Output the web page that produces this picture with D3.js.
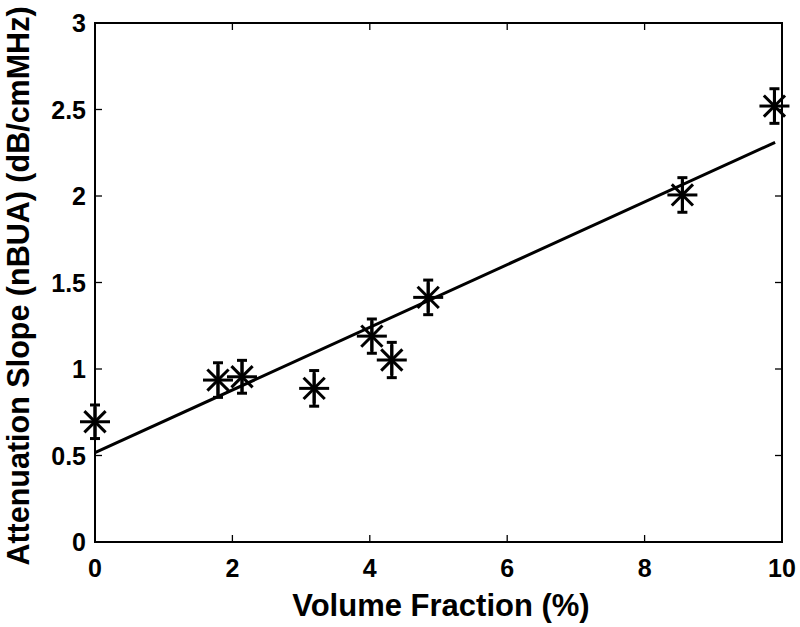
<!DOCTYPE html>
<html><head><meta charset="utf-8">
<script src="https://cdn.jsdelivr.net/npm/d3@7"></script>
<style>body{margin:0;background:#fff}svg{display:block}</style>
</head><body>
<svg id="c" width="800" height="627"></svg>
<script>
const volumeFraction = [0, 1.79, 2.14, 3.19, 4.03, 4.32, 4.85, 8.55, 9.89];
const attenuation = [0.695, 0.936, 0.955, 0.888, 1.19, 1.052, 1.414, 2.006, 2.52];
const errorHalf = [0.097, 0.1, 0.095, 0.103, 0.099, 0.102, 0.1, 0.1, 0.1];
const fitX = [0, 9.9];
const fitY = [0.516, 2.31];
const xTicks = [0, 2, 4, 6, 8, 10];
const yTicks = [0, 0.5, 1, 1.5, 2, 2.5, 3];
const xTitle = "Volume Fraction (%)";
const yTitle = "Attenuation Slope (nBUA) (dB/cmMHz)";

const svg = d3.select("#c");
const L = 95, R = 782, T = 23, B = 542;
const x = d3.scaleLinear().domain([0, 10]).range([L, R]);
const y = d3.scaleLinear().domain([0, 3]).range([B, T]);
const font = "'Liberation Sans', Arial, sans-serif";
const tl = 7;

// ticks
const g = svg.append("g");
g.selectAll(".xb").data(xTicks).enter().append("line")
  .attr("x1", d => x(d)).attr("x2", d => x(d)).attr("y1", B).attr("y2", B - tl)
  .attr("stroke", "#000").attr("stroke-width", 1.3);
g.selectAll(".xt").data(xTicks).enter().append("line")
  .attr("x1", d => x(d)).attr("x2", d => x(d)).attr("y1", T).attr("y2", T + tl)
  .attr("stroke", "#000").attr("stroke-width", 1.3);
g.selectAll(".yl").data(yTicks).enter().append("line")
  .attr("x1", L).attr("x2", L + tl).attr("y1", d => y(d)).attr("y2", d => y(d))
  .attr("stroke", "#000").attr("stroke-width", 1.3);
g.selectAll(".yr").data(yTicks).enter().append("line")
  .attr("x1", R).attr("x2", R - tl).attr("y1", d => y(d)).attr("y2", d => y(d))
  .attr("stroke", "#000").attr("stroke-width", 1.3);

// box
svg.append("rect").attr("x", L).attr("y", T).attr("width", R - L).attr("height", B - T)
  .attr("fill", "none").attr("stroke", "#000").attr("stroke-width", 2);

// tick labels
svg.selectAll(".xlab").data(xTicks).enter().append("text")
  .attr("x", d => x(d)).attr("y", B + 35).attr("text-anchor", "middle")
  .attr("font-family", font).attr("font-weight", "bold").attr("font-size", 25)
  .text(d => d3.format("")(d));
svg.selectAll(".ylab").data(yTicks).enter().append("text")
  .attr("x", L - 9).attr("y", d => y(d) + 9).attr("text-anchor", "end")
  .attr("font-family", font).attr("font-weight", "bold").attr("font-size", 25)
  .text(d => d3.format("")(d));

// titles
svg.append("text").attr("x", 441).attr("y", 616).attr("text-anchor", "middle")
  .attr("font-family", font).attr("font-weight", "bold").attr("font-size", 31)
  .text(xTitle);
svg.append("text").attr("transform", `translate(29,286) rotate(-90)`)
  .attr("text-anchor", "middle")
  .attr("font-family", font).attr("font-weight", "bold").attr("font-size", 30.5)
  .text(yTitle);

// fit line
svg.append("line")
  .attr("x1", x(fitX[0])).attr("y1", y(fitY[0]))
  .attr("x2", x(fitX[1])).attr("y2", y(fitY[1]))
  .attr("stroke", "#000").attr("stroke-width", 3);

// error bars and markers
const pts = volumeFraction.map((v, i) => ({x: v, y: attenuation[i], e: errorHalf[i]}));
const pg = svg.append("g").attr("stroke", "#000").attr("stroke-width", 3).attr("fill", "none");
const cap = 5;
pts.forEach(p => {
  const cx = x(p.x), cy = y(p.y), yt = y(p.y + p.e), yb = y(p.y - p.e);
  pg.append("line").attr("x1", cx).attr("x2", cx).attr("y1", yt).attr("y2", yb);
  pg.append("line").attr("x1", cx - cap).attr("x2", cx + cap).attr("y1", yt).attr("y2", yt);
  pg.append("line").attr("x1", cx - cap).attr("x2", cx + cap).attr("y1", yb).attr("y2", yb);
  const a = 15, d = 10.6;
  pg.append("line").attr("x1", cx - a).attr("x2", cx + a).attr("y1", cy).attr("y2", cy);
  pg.append("line").attr("x1", cx).attr("x2", cx).attr("y1", cy - a).attr("y2", cy + a);
  pg.append("line").attr("x1", cx - d).attr("x2", cx + d).attr("y1", cy - d).attr("y2", cy + d);
  pg.append("line").attr("x1", cx - d).attr("x2", cx + d).attr("y1", cy + d).attr("y2", cy - d);
});
</script>
</body></html>
